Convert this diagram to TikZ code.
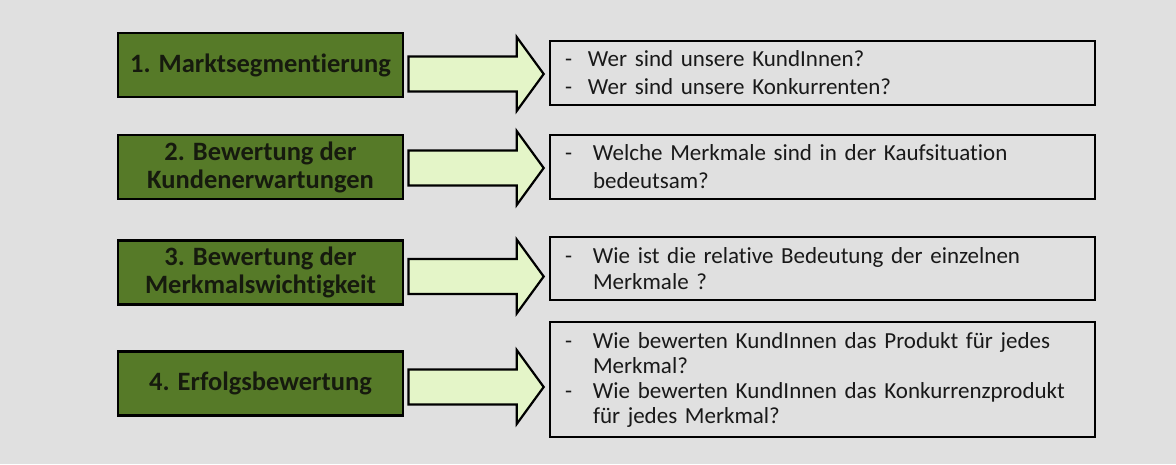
\documentclass[tikz,border=0pt]{standalone}
\usepackage{fontspec}
\setmainfont[Ligatures={NoCommon}]{Carlito}
\usetikzlibrary{calc}
\definecolor{bg}{RGB}{224,224,224}
\definecolor{olive}{RGB}{86,122,40}
\definecolor{lightgr}{RGB}{228,245,200}
\definecolor{darktext}{RGB}{22,26,14}
\newcommand{\dl}[2]{\makebox[#1][l]{-}#2}
\newcommand{\cl}[2]{\hspace*{#1}#2}
\tikzset{
  gbox/.style={draw=black, line width=2.8pt, fill=olive, minimum width=285pt, minimum height=64pt,
    inner sep=0pt, align=center, text=darktext, font=\fontsize{26.5}{28}\selectfont\bfseries},
  wbox/.style={draw=black, line width=2.6pt, minimum width=545pt, inner xsep=15pt, inner ysep=0pt,
    text width=515pt, align=left, text=black!90},
  farrow/.style={draw=black, line width=2.2pt, fill=lightgr, line join=miter}
}
\newcommand{\fatarrow}[2]{%
  \draw[farrow] ($(#1)+(0,-17.5)$) -- ($(#2)+(-27,-17.5)$) -- ($(#2)+(-27,-37)$) -- (#2)
    -- ($(#2)+(-27,37)$) -- ($(#2)+(-27,17.5)$) -- ($(#1)+(0,17.5)$) -- cycle;}
\begin{document}
\begin{tikzpicture}[x=1pt,y=-1pt]
\fill[bg] (0,0) rectangle (1176,464);
\useasboundingbox (0,0) rectangle (1176,464);

% left green boxes
\node[gbox] (g1) at (260.5,65) {1. Marktsegmentierung};
\node[gbox] (g2) at (260.5,167) {2. Bewertung der\\Kundenerwartungen};
\node[gbox] (g3) at (260.5,272.5) {3. Bewertung der\\Merkmalswichtigkeit};
\node[gbox] (g4) at (260.5,383.5) {4. Erfolgsbewertung};

% right boxes
\node[wbox, minimum height=64pt, font=\fontsize{23}{28}\selectfont] (w1) at (822.5,73)
  {\dl{23pt}{Wer sind unsere KundInnen?}\\\dl{23pt}{Wer sind unsere Konkurrenten?}};
\node[wbox, minimum height=64pt, font=\fontsize{23}{28}\selectfont] (w2) at (822.5,167)
  {\dl{28pt}{Welche Merkmale sind in der Kaufsituation}\\\cl{28pt}{bedeutsam?}};
\node[wbox, minimum height=63pt, font=\fontsize{23}{26}\selectfont] (w3) at (822.5,268.5)
  {\dl{28pt}{Wie ist die relative Bedeutung der einzelnen}\\\cl{28pt}{Merkmale ?}};
\node[wbox, minimum height=115pt, font=\fontsize{23}{25}\selectfont] (w4) at (822.5,379.5)
  {\dl{28pt}{Wie bewerten KundInnen das Produkt für jedes}\\\cl{28pt}{Merkmal?}\\
   \dl{28pt}{Wie bewerten KundInnen das Konkurrenzprodukt}\\\cl{28pt}{für jedes Merkmal?}};

% arrows
\coordinate (s1) at ($(g1.east |- 0,74)+(4,0)$);
\coordinate (t1) at ($(w1.west |- 0,74)+(-5,0)$);
\coordinate (s2) at ($(g2.east |- 0,168)+(4,0)$);
\coordinate (t2) at ($(w2.west |- 0,168)+(-5,0)$);
\coordinate (s3) at ($(g3.east |- 0,276.5)+(4,0)$);
\coordinate (t3) at ($(w3.west |- 0,276.5)+(-5,0)$);
\coordinate (s4) at ($(g4.east |- 0,387)+(4,0)$);
\coordinate (t4) at ($(w4.west |- 0,387)+(-5,0)$);
\fatarrow{s1}{t1}
\fatarrow{s2}{t2}
\fatarrow{s3}{t3}
\fatarrow{s4}{t4}
\end{tikzpicture}
\end{document}
